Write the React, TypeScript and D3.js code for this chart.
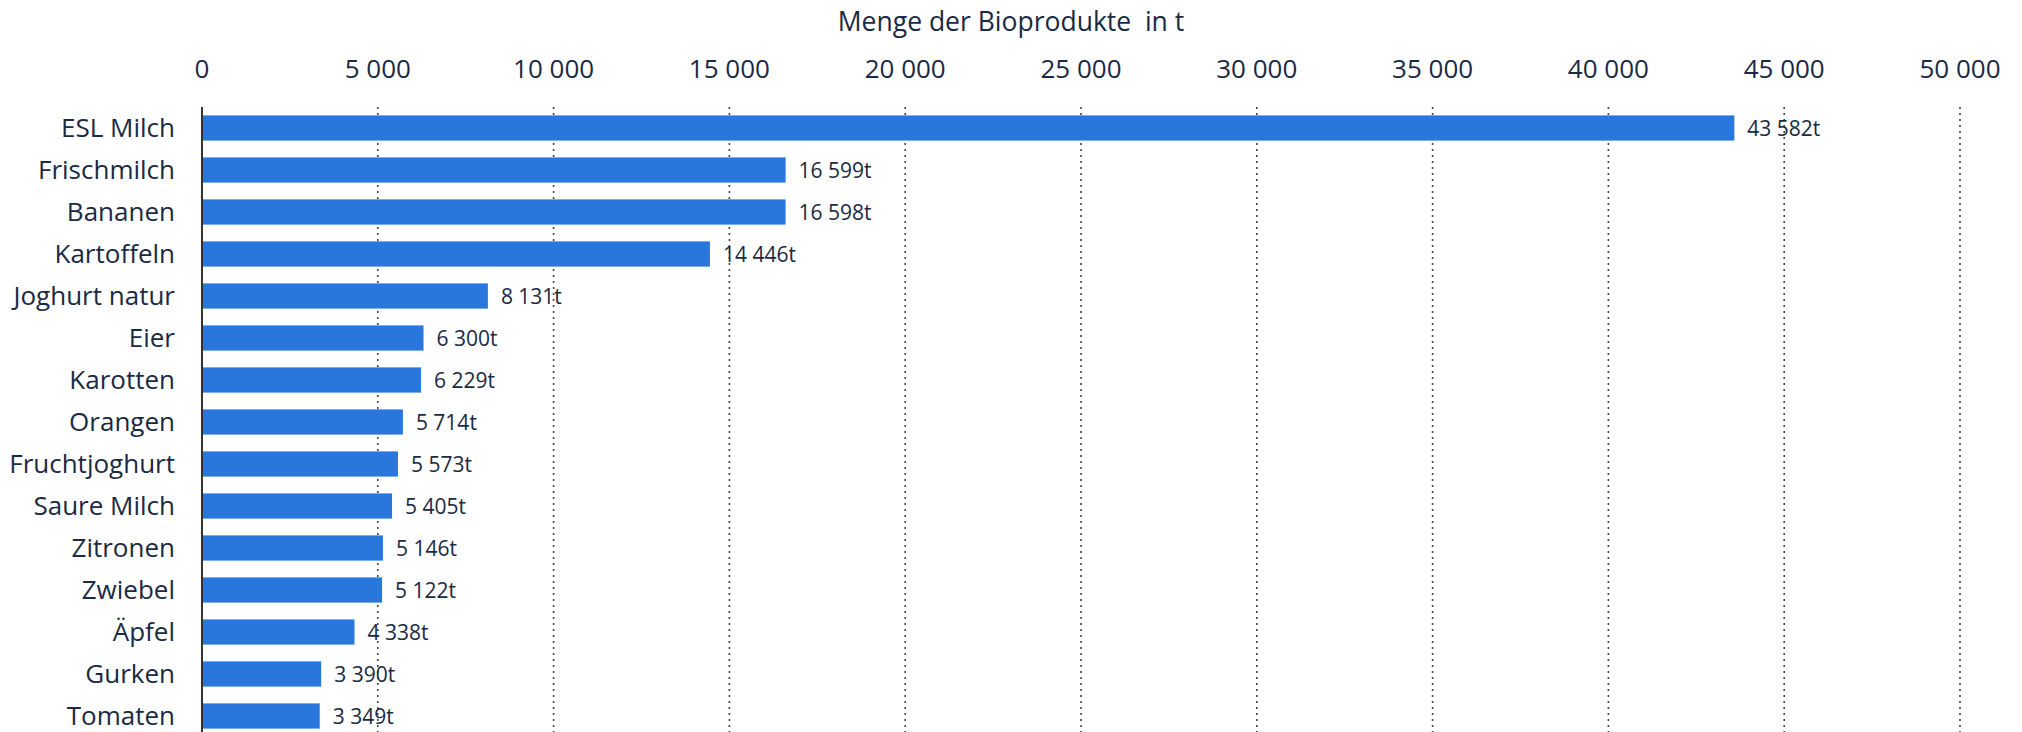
import * as d3 from 'd3';

const categories = [
  'ESL Milch', 'Frischmilch', 'Bananen', 'Kartoffeln', 'Joghurt natur', 'Eier', 'Karotten',
  'Orangen', 'Fruchtjoghurt', 'Saure Milch', 'Zitronen', 'Zwiebel', 'Äpfel', 'Gurken', 'Tomaten',
];
const values = [43582, 16599, 16598, 14446, 8131, 6300, 6229, 5714, 5573, 5405, 5146, 5122, 4338, 3390, 3349];
const tickValues = [0, 5000, 10000, 15000, 20000, 25000, 30000, 35000, 40000, 45000, 50000];
const axisTitle = 'Menge der Bioprodukte\u00a0 in t';

const W = 2022, H = 732;
const margin = { left: 202, right: 62, top: 107 };
const ink = '#1a2a44';
const font = '"Open Sans", sans-serif';

const locale = d3.formatLocale({ decimal: ',', thousands: '\u2009', grouping: [3], currency: ['', ''] });
const fmt = locale.format(',d');
const fmtSp = (v: number) => fmt(v).replace(/\u2009/g, ' ');

export default function App() {
  const x = d3.scaleLinear().domain([0, 50000]).range([margin.left, W - margin.right]);
  const y = d3.scaleBand().domain(categories).range([margin.top, margin.top + 42 * categories.length]).paddingInner(0.4).paddingOuter(0.2);

  return (
    <svg width={W} height={H} style={{ position: 'absolute', left: 0, top: 0 }} fontFamily={font}>
      <text x={W / 2} y={31} textAnchor="middle" fontSize={26.5} fill={ink}>{axisTitle}</text>
      {tickValues.map((t) => (
        <g key={t}>
          <text x={x(t)} y={78} textAnchor="middle" fontSize={26} fill={ink}>{fmtSp(t)}</text>
          {t > 0 && (
            <line x1={x(t)} x2={x(t)} y1={margin.top} y2={H} stroke="#444" strokeWidth={1.6} strokeDasharray="2,4" />
          )}
        </g>
      ))}
      {categories.map((c, i) => {
        const yc = (y(c) ?? 0) + y.bandwidth() / 2;
        return (
          <g key={c}>
            <rect x={x(0)} y={y(c)} width={x(values[i]) - x(0)} height={y.bandwidth()} fill="#2976dd" />
            <text x={175} y={yc} dy="0.36em" textAnchor="end" fontSize={26} fill={ink}>{c}</text>
            <text x={x(values[i]) + 13} y={yc} dy="0.36em" fontSize={21} fill={ink}>{fmtSp(values[i])}t</text>
          </g>
        );
      })}
      <line x1={x(0)} x2={x(0)} y1={margin.top} y2={H} stroke="#333" strokeWidth={2} />
    </svg>
  );
}
